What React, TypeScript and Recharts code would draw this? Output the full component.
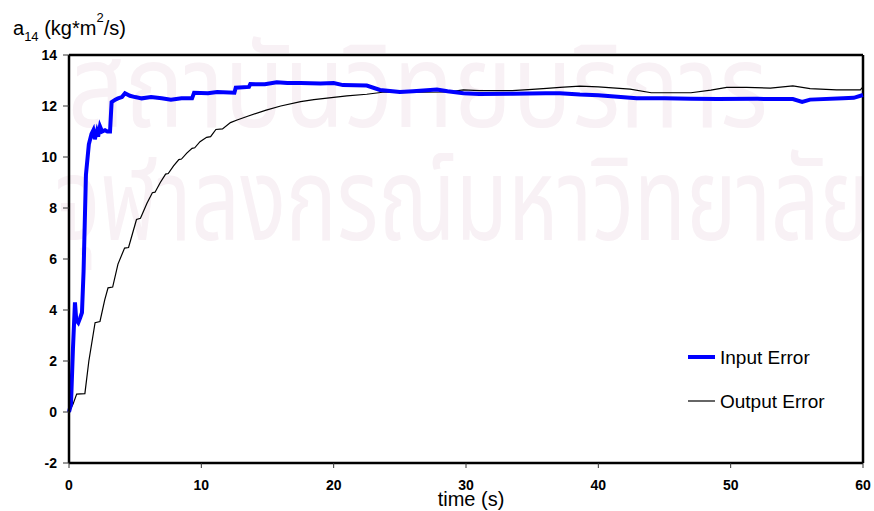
import React from 'react';
import { LineChart, Line, XAxis, YAxis, ReferenceLine, Customized } from 'recharts';

// values
const inputTime = [
  0, 0.15, 0.3, 0.45, 0.55, 0.7, 0.85, 0.98, 1.1, 1.28, 1.5, 1.7, 1.84, 1.95, 2.1, 2.2, 2.34, 2.5,
  2.72, 2.9, 3.1, 3.22, 3.5, 3.7, 4.0, 4.23, 4.6, 5.0, 5.5, 6.2, 7.0, 7.7, 8.5, 9.3, 9.45, 10.5,
  11.2, 12.5, 12.6, 13.6, 13.7, 14.8, 15.7, 16.5, 17.5, 19, 20, 20.7, 22.5, 23.5, 25, 26, 27.8,
  28.6, 29.8, 31, 33.5, 36, 37.1, 38.6, 40, 42.9, 45, 47, 49, 52, 54.7, 55.4, 56, 58.5, 59.3, 60,
];
const inputValues = [
  0, 0.3, 2.5, 4.3, 3.6, 3.5, 3.7, 3.9, 5.5, 9.3, 10.5, 10.9, 11.05, 10.7, 11.0, 10.8, 11.2, 11.0,
  11.05, 11.0, 11.0, 12.15, 12.25, 12.3, 12.35, 12.5, 12.4, 12.35, 12.3, 12.35, 12.3, 12.25, 12.3,
  12.3, 12.52, 12.5, 12.55, 12.52, 12.72, 12.75, 12.86, 12.85, 12.93, 12.9, 12.9, 12.88, 12.9,
  12.82, 12.8, 12.63, 12.55, 12.58, 12.65, 12.58, 12.5, 12.47, 12.48, 12.5, 12.5, 12.45, 12.42,
  12.3, 12.3, 12.28, 12.27, 12.28, 12.27, 12.16, 12.25, 12.3, 12.32, 12.43,
];

const outputTime = [
  0, 0.3, 0.58, 1.2, 1.5, 1.97, 2.34, 2.7, 2.95, 3.3, 3.7, 4.2, 4.5, 4.8, 5.1, 5.4, 5.9, 6.3, 6.5,
  6.9, 7.3, 7.5, 7.9, 8.3, 8.5, 8.9, 9.3, 9.5, 9.9, 10.4, 10.7, 11.1, 11.6, 12.2, 12.7, 13.5, 14.9,
  16, 17.5, 18.5, 20, 21, 22.5, 23.7, 25, 26.5, 28.6, 29.8, 31, 33.5, 35, 36.1, 37.1, 38.6, 40,
  42.4, 44, 47, 48.5, 49.7, 51.2, 53, 54.7, 56, 58, 59.8, 60,
];
const outputValues = [
  0, 0.3, 0.7, 0.72, 2.0, 3.5, 3.55, 4.4, 4.87, 4.9, 5.8, 6.43, 6.45, 7.0, 7.55, 7.6, 8.2, 8.6,
  8.62, 9.0, 9.33, 9.35, 9.65, 9.9, 9.92, 10.15, 10.34, 10.36, 10.6, 10.77, 10.8, 11.08, 11.1,
  11.35, 11.45, 11.6, 11.84, 12.0, 12.17, 12.25, 12.34, 12.4, 12.46, 12.54, 12.55, 12.54, 12.55,
  12.63, 12.6, 12.6, 12.65, 12.69, 12.73, 12.78, 12.75, 12.66, 12.52, 12.52, 12.62, 12.73, 12.73,
  12.7, 12.79, 12.68, 12.63, 12.63, 12.75,
];

const xTicks = [0, 10, 20, 30, 40, 50, 60];
const yTicks = [-2, 0, 2, 4, 6, 8, 10, 12, 14];

const FONT = '"Liberation Sans", Arial, sans-serif';

const toPoints = (t: number[], v: number[]) => t.map((time, i) => ({ time, value: v[i] }));
const inputData = toPoints(inputTime, inputValues);
const outputData = toPoints(outputTime, outputValues);

// axis titles + legend, drawn on the chart surface
const Overlay = () => (
  <g fontFamily={FONT} fill="#000">
    <text x={13} y={35} fontSize={20}>
      a<tspan fontSize={13} dy={6}>14</tspan>
      <tspan fontSize={20} dy={-6}> (kg*m</tspan>
      <tspan fontSize={13} dy={-13}>2</tspan>
      <tspan fontSize={20} dy={13}>/s)</tspan>
    </text>
    <text x={471} y={506} fontSize={20} textAnchor="middle">time (s)</text>
    <line x1={688} x2={715} y1={357} y2={357} stroke="#0000ff" strokeWidth={4} />
    <text x={720} y={364} fontSize={19}>Input Error</text>
    <line x1={688} x2={715} y1={401} y2={401} stroke="#000" strokeWidth={1.2} />
    <text x={720} y={408} fontSize={19}>Output Error</text>
  </g>
);

export default function App() {
  return (
    <div style={{ position: 'absolute', left: 0, top: 0, width: 874, height: 511, background: '#fff' }}>
      <svg width={874} height={511} style={{ position: 'absolute', left: 0, top: 0 }}>
        <g fill="#f8f1f5" fontFamily='"Noto Sans Thai", "Noto Sans", sans-serif'>
          <text x={68} y={127} fontSize={116} textLength={700} lengthAdjust="spacingAndGlyphs">สถาบันวิทยบริการ</text>
          <text x={55} y={240} fontSize={116} textLength={815} lengthAdjust="spacingAndGlyphs">จุฬาลงกรณ์มหาวิทยาลัย</text>
        </g>
      </svg>
      <div style={{ position: 'absolute', left: 0, top: 0 }}>
        <LineChart width={874} height={511} margin={{ top: 55, right: 11, bottom: 18, left: 0 }}>
          <XAxis
            dataKey="time"
            type="number"
            domain={[0, 60]}
            ticks={xTicks}
            allowDuplicatedCategory={false}
            height={30}
            tickSize={5}
            tickMargin={12}
            axisLine={{ stroke: '#000', strokeWidth: 2.5 }}
            tickLine={{ stroke: '#333', strokeWidth: 1 }}
            tick={{ fill: '#000', fontSize: 14, fontWeight: 'bold', fontFamily: FONT }}
          />
          <YAxis
            type="number"
            domain={[-2, 14]}
            ticks={yTicks}
            width={69}
            tickSize={6}
            tickMargin={6}
            axisLine={{ stroke: '#000', strokeWidth: 2.5 }}
            tickLine={{ stroke: '#333', strokeWidth: 1 }}
            tick={{ fill: '#000', fontSize: 14, fontWeight: 'bold', fontFamily: FONT }}
          />
          <ReferenceLine y={14} stroke="#000" strokeWidth={2.5} />
          <ReferenceLine x={60} stroke="#000" strokeWidth={2.5} />
          <Line
            data={outputData}
            dataKey="value"
            name="Output Error"
            type="linear"
            stroke="#000"
            strokeWidth={1.2}
            dot={false}
            isAnimationActive={false}
          />
          <Line
            data={inputData}
            dataKey="value"
            name="Input Error"
            type="linear"
            stroke="#0000ff"
            strokeWidth={4}
            dot={false}
            isAnimationActive={false}
          />
          <Customized component={Overlay} />
        </LineChart>
      </div>
    </div>
  );
}
